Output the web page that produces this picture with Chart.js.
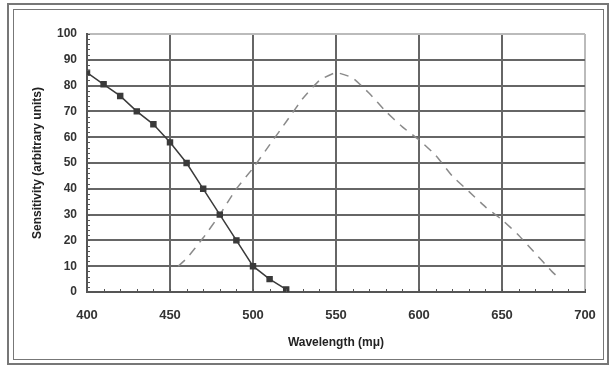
<!DOCTYPE html>
<html>
<head>
<meta charset="utf-8">
<script src="https://cdn.jsdelivr.net/npm/chart.js@4.4.0/dist/chart.umd.min.js"></script>
<style>
  body { margin: 0; background: #fff; }
  #wrap { position: relative; width: 613px; height: 368px; }
</style>
</head>
<body>
<div id="wrap"><canvas id="chart" width="613" height="368"></canvas></div>
<script>
// cone-type curve (solid, square markers)
const solidWl = [400, 410, 420, 430, 440, 450, 460, 470, 480, 490, 500, 510, 520];
const solidVals = [85, 80.5, 76, 70, 65, 58, 50, 40, 30, 20, 10, 5, 1];

// dashed curve
const dashWl = [455, 460, 470, 480, 490, 500, 510, 520, 530, 540, 550, 560, 570, 580, 590, 600, 610, 620, 630, 640, 650, 660, 670, 680, 685];
const dashVals = [10, 13, 21, 30, 40, 48, 57, 66, 75, 82, 85, 83, 77, 70, 64, 59, 53, 45, 39, 33, 28, 22, 15, 8, 5];

const xTicks = [400, 450, 500, 550, 600, 650, 700];

const toPts = (xs, ys) => xs.map((x, i) => ({ x: x, y: ys[i] }));

// outer double frame + minor ticks
const framePlugin = {
  id: "frame",
  beforeDraw(chart) {
    const c = chart.ctx;
    c.save();
    c.strokeStyle = "#777";
    c.lineWidth = 2;
    c.strokeRect(8, 4, 600, 360);
    c.lineWidth = 1;
    c.strokeRect(13.5, 9.5, 590, 350);
    c.restore();
  },
  afterDatasetsDraw(chart) {
    const c = chart.ctx, xs = chart.scales.x, ys = chart.scales.y;
    c.save();
    c.strokeStyle = "#555";
    c.lineWidth = 1;
    c.beginPath();
    for (let v = 400; v <= 700; v += 10) {
      const px = Math.round(xs.getPixelForValue(v)) + 0.5;
      c.moveTo(px, ys.bottom);
      c.lineTo(px, ys.bottom - 3);
    }
    for (let v = 0; v <= 100; v += 2) {
      const py = Math.round(ys.getPixelForValue(v)) + 0.5;
      c.moveTo(xs.left, py);
      c.lineTo(xs.left + 3, py);
    }
    c.stroke();
    c.restore();
  }
};

new Chart(document.getElementById("chart"), {
  type: "scatter",
  data: {
    datasets: [
      {
        data: toPts(solidWl, solidVals),
        showLine: true,
        borderColor: "#3a3a3a",
        borderWidth: 1.5,
        backgroundColor: "#3a3a3a",
        pointStyle: "rect",
        pointRadius: 3.5,
        tension: 0
      },
      {
        data: toPts(dashWl, dashVals),
        showLine: true,
        borderColor: "#8a8a8a",
        borderWidth: 1.5,
        borderDash: [9, 7],
        pointRadius: 0,
        tension: 0.15
      }
    ]
  },
  options: {
    responsive: false,
    animation: false,
    layout: { padding: { left: 0, right: 28, top: 34, bottom: 0 } },
    plugins: { legend: { display: false }, tooltip: { enabled: false } },
    scales: {
      x: {
        type: "linear",
        min: 400,
        max: 700,
        afterBuildTicks: (s) => { s.ticks = xTicks.map(v => ({ value: v })); },
        afterFit: (s) => { s.height = 76; },
        grid: {
          color: (ctx) => ctx.tick && ctx.tick.value === 700 ? "#bbb" : "#666",
          lineWidth: 2,
          drawTicks: false
        },
        border: { color: "#555", width: 2 },
        ticks: { color: "#333", font: { family: "Liberation Sans", size: 13, weight: "bold" }, padding: 16 },
        title: {
          display: true,
          text: "Wavelength (mμ)",
          color: "#222",
          font: { family: "Liberation Sans", size: 12, weight: "bold" },
          padding: { top: 0, bottom: 18 }
        }
      },
      y: {
        min: 0,
        max: 100,
        ticks: { stepSize: 10, color: "#333", font: { family: "Liberation Sans", size: 12, weight: "bold" }, padding: 10 },
        afterFit: (s) => { s.width = 87; },
        grid: {
          color: (ctx) => ctx.tick && ctx.tick.value === 100 ? "#bbb" : "#666",
          lineWidth: 2,
          drawTicks: false
        },
        border: { color: "#555", width: 2 },
        title: {
          display: true,
          text: "Sensitivity (arbitrary units)",
          color: "#222",
          font: { family: "Liberation Sans", size: 12, weight: "bold" },
          padding: { top: 30, bottom: 0 }
        }
      }
    }
  },
  plugins: [framePlugin]
});
</script>
</body>
</html>
